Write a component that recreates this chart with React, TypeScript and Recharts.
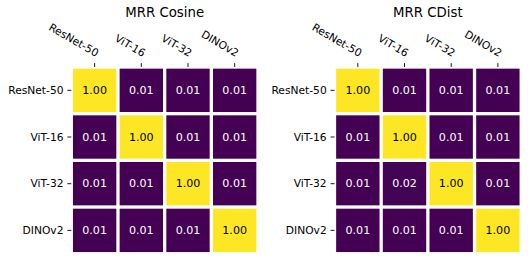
import React from 'react';
import { ScatterChart, Scatter, XAxis, YAxis } from 'recharts';

const models = ['ResNet-50', 'ViT-16', 'ViT-32', 'DINOv2'];

const cosineResNet50 = [1.0, 0.01, 0.01, 0.01];
const cosineViT16 = [0.01, 1.0, 0.01, 0.01];
const cosineViT32 = [0.01, 0.01, 1.0, 0.01];
const cosineDINOv2 = [0.01, 0.01, 0.01, 1.0];

const cdistResNet50 = [1.0, 0.01, 0.01, 0.01];
const cdistViT16 = [0.01, 1.0, 0.01, 0.01];
const cdistViT32 = [0.01, 0.02, 1.0, 0.01];
const cdistDINOv2 = [0.01, 0.01, 0.01, 1.0];

const cosineRows = [cosineResNet50, cosineViT16, cosineViT32, cosineDINOv2];
const cdistRows = [cdistResNet50, cdistViT16, cdistViT32, cdistDINOv2];

const FONT = 'DejaVu Sans, Verdana, sans-serif';
const TICK_FS = 10.7;

const viridisStops = ['#440154', '#3b528b', '#21918c', '#5ec962', '#fde725'];

function hexToRgb(h: string) {
  return [parseInt(h.slice(1, 3), 16), parseInt(h.slice(3, 5), 16), parseInt(h.slice(5, 7), 16)];
}
function viridis(t: number) {
  const c = Math.max(0, Math.min(1, t)) * (viridisStops.length - 1);
  const i = Math.min(viridisStops.length - 2, Math.floor(c));
  const f = c - i;
  const a = hexToRgb(viridisStops[i]);
  const b = hexToRgb(viridisStops[i + 1]);
  const m = a.map((v, k) => Math.round(v + (b[k] - v) * f));
  return `rgb(${m[0]},${m[1]},${m[2]})`;
}

function buildData(rows: number[][]) {
  const flat = rows.flat();
  const mn = Math.min(...flat);
  const mx = Math.max(...flat);
  const out: any[] = [];
  rows.forEach((r, ri) =>
    r.forEach((v, ci) => {
      out.push({ x: models[ci], y: models[ri], v, n: (v - mn) / (mx - mn) });
    })
  );
  return out;
}

const PLOT = 186.7;
const CELL = PLOT / 4;
const GAP = 3.3;

const CellShape = (props: any) => {
  const { cx, cy, payload } = props;
  if (cx == null || cy == null) return null;
  const s = CELL - GAP;
  const dark = payload.n < 0.5;
  return (
    <g>
      <rect x={cx - s / 2} y={cy - s / 2} width={s} height={s} fill={viridis(payload.n)} />
      <text
        x={cx}
        y={cy + 3.8}
        textAnchor="middle"
        fontFamily={FONT}
        fontSize={11.1}
        fill={dark ? '#ffffff' : '#000000'}
      >
        {payload.v.toFixed(2)}
      </text>
    </g>
  );
};

const TopTick = (props: any) => {
  const { x, y, payload } = props;
  return (
    <g transform={`translate(${x},${y}) rotate(30)`}>
      <text x={0} y={-2.5} textAnchor="end" fontFamily={FONT} fontSize={TICK_FS} fill="#000">
        {payload.value}
      </text>
    </g>
  );
};

const LeftTick = (props: any) => {
  const { x, y, payload } = props;
  return (
    <text x={x} y={y + 3.7} textAnchor="end" fontFamily={FONT} fontSize={TICK_FS} fill="#000">
      {payload.value}
    </text>
  );
};

function Heatmap({ title, rows, left, yWidth, right }: any) {
  const data = buildData(rows);
  const W = 264;
  const H = 261;
  const plotLeft = yWidth;
  return (
    <div style={{ position: 'absolute', left, top: 0, width: W, height: H }}>
      <ScatterChart width={W} height={H} margin={{ top: 0, left: 0, right, bottom: 7.3 }}>
        <XAxis
          xAxisId={0}
          dataKey="x"
          type="category"
          scale="band"
          orientation="top"
          allowDuplicatedCategory={false}
          domain={models}
          ticks={models}
          height={67}
          axisLine={false}
          tickSize={3.9}
          tickMargin={3.9}
          tickLine={{ stroke: '#000', strokeWidth: 0.9 }}
          tick={<TopTick />}
          interval={0}
        />
        <YAxis
          yAxisId={0}
          dataKey="y"
          type="category"
          scale="band"
          allowDuplicatedCategory={false}
          domain={models}
          ticks={models}
          reversed
          width={yWidth}
          axisLine={false}
          tickSize={3.9}
          tickMargin={3.9}
          tickLine={{ stroke: '#000', strokeWidth: 0.9 }}
          tick={<LeftTick />}
          interval={0}
        />
        <Scatter data={data} shape={<CellShape />} isAnimationActive={false} />
        <text
          x={plotLeft + PLOT / 2}
          y={16.7}
          textAnchor="middle"
          fontFamily={FONT}
          fontSize={13.3}
          fill="#000"
        >
          {title}
        </text>
      </ScatterChart>
    </div>
  );
}

export default function App() {
  return (
    <div style={{ position: 'absolute', left: 0, top: 0, width: 528, height: 261, background: '#fff' }}>
      <Heatmap title="MRR Cosine" rows={cosineRows} left={0} yWidth={71.3} right={264 - 71.3 - PLOT} />
      <Heatmap title="MRR CDist" rows={cdistRows} left={264} yWidth={70.5} right={264 - 70.5 - PLOT} />
    </div>
  );
}
